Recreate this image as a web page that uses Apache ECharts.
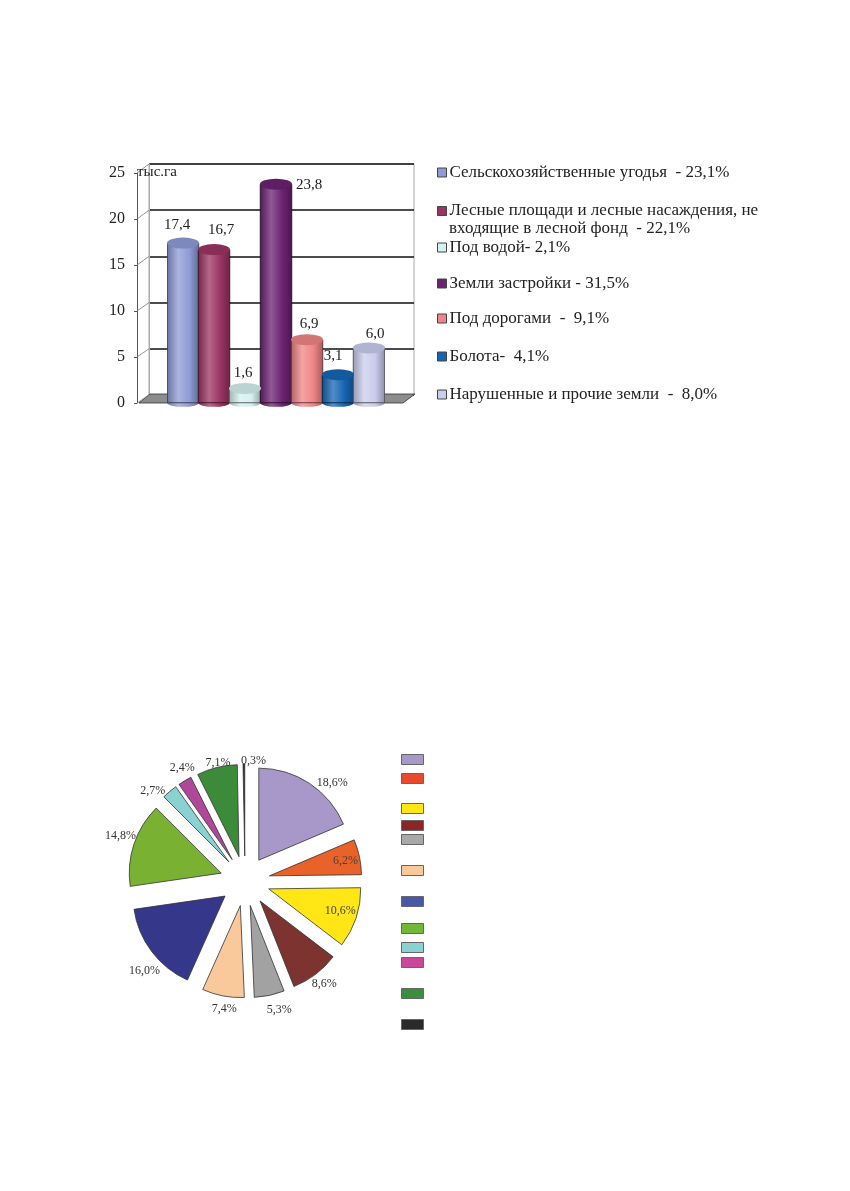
<!DOCTYPE html>
<html>
<head>
<meta charset="utf-8">
<script src="https://cdn.jsdelivr.net/npm/echarts@6/dist/echarts.min.js"></script>
<style>
    html, body { margin: 0; padding: 0; background: #fff; }
    #chart { width: 850px; height: 1191px; }
</style>
</head>
<body>
<div id="chart"></div>
<script>
// структура земель, тыс.га
var landLabels = [
    'Сельскохозяйственные угодья  - 23,1%',
    'Лесные площади и лесные насаждения, не',
    'Под водой- 2,1%',
    'Земли застройки - 31,5%',
    'Под дорогами  -  9,1%',
    'Болота-  4,1%',
    'Нарушенные и прочие земли  -  8,0%'
];
var landSecondLine = 'входящие в лесной фонд  - 22,1%';
var landValues = [17.4, 16.7, 1.6, 23.8, 6.9, 3.1, 6.0];
var landColors = ['#8e9bd6', '#9c3463', '#d6f0f0', '#6b2272', '#f08585', '#1565b4', '#c9cdec'];
var yTicks = [0, 5, 10, 15, 20, 25];

// круговая диаграмма
var pieLabels = ['18,6%', '6,2%', '10,6%', '8,6%', '5,3%', '7,4%', '16,0%', '14,8%', '2,7%', '2,4%', '7,1%', '0,3%'];
var pieValues = [18.6, 6.2, 10.6, 8.6, 5.3, 7.4, 16.0, 14.8, 2.7, 2.4, 7.1, 0.3];
var pieColors = ['#a898ca', '#e8622a', '#ffe614', '#7d3430', '#a2a2a2', '#f9c99c', '#35378a', '#79b232', '#8ad2d2', '#b0489a', '#3b8b3a', '#222222'];
var pieLegendColors = ['#a898ca', '#e84a30', '#ffe614', '#8a2528', '#a8a8a8', '#f9c99c', '#4858a8', '#72b838', '#8ad2d2', '#c8489a', '#3a8e3e', '#2a2a2a'];

window.onload = function () {
    init();
};

function shade(hex, f) {
    let n = parseInt(hex.slice(1), 16);
    let r = (n >> 16) & 255, g = (n >> 8) & 255, b = n & 255;
    if (f < 0) {
        r = Math.round(r * (1 + f)); g = Math.round(g * (1 + f)); b = Math.round(b * (1 + f));
    } else {
        r = Math.round(r + (255 - r) * f); g = Math.round(g + (255 - g) * f); b = Math.round(b + (255 - b) * f);
    }
    return 'rgb(' + r + ',' + g + ',' + b + ')';
}

function cylinder(hex) {
    return new echarts.graphic.LinearGradient(0, 0, 1, 0, [
        {offset: 0, color: shade(hex, -0.25)},
        {offset: 0.35, color: shade(hex, 0.25)},
        {offset: 0.7, color: hex},
        {offset: 1, color: shade(hex, -0.3)}
    ]);
}

function fmt(v) {
    return v.toFixed(1).replace('.', ',');
}

function init() {
    let serif = 'Liberation Serif';
    let legendTops = [164, 202.5, 239, 275, 310, 348, 386];
    let pieLegendTops = [754, 773, 803, 820, 834, 865, 896, 923, 942, 957, 988, 1019];
    // сдвиги подписей над цилиндрами
    let barLabelShift = [[-6, -1], [7, -2], [-2, 2], [33, 18], [2, 2], [-5, -1], [6, 3]];
    // сдвиги подписей пирога
    let pieLabelShift = [[-1, 1], [28, -5], [25, 7], [-12, 8], [-10, 12], [21, 11], [17, 18], [11, -8], [4, 1], [18, -11], [21, -3], [29, -1]];

    let series = [];
    // цилиндры
    landValues.forEach(function (v, i) {
        let data = landValues.map(function (x, j) { return j === i ? v : '-'; });
        series.push({
            name: landLabels[i],
            type: 'bar',
            xAxisIndex: 1,
            yAxisIndex: 1,
            barWidth: 32,
            barGap: '-100%',
            z: 3,
            itemStyle: {color: cylinder(landColors[i]), borderColor: shade(landColors[i], -0.6), borderWidth: 0.6},
            data: data
        });
    });
    // нижние эллипсы
    series.push({
        type: 'pictorialBar',
        xAxisIndex: 1,
        yAxisIndex: 1,
        symbol: 'circle',
        symbolSize: [32, 8],
        symbolPosition: 'start',
        symbolOffset: [0, '50%'],
        z: 2,
        silent: true,
        data: landValues.map(function (v, i) {
            return {value: v, itemStyle: {color: cylinder(landColors[i]), borderColor: shade(landColors[i], -0.6), borderWidth: 0.6}};
        })
    });
    // верхние эллипсы и подписи
    series.push({
        type: 'pictorialBar',
        xAxisIndex: 1,
        yAxisIndex: 1,
        symbol: 'circle',
        symbolSize: [32, 11],
        symbolPosition: 'end',
        symbolOffset: [0, '-50%'],
        z: 4,
        silent: true,
        label: {
            show: true,
            position: 'top',
            distance: 4,
            fontFamily: serif,
            fontSize: 15,
            color: '#222',
            formatter: function (p) { return fmt(p.value); }
        },
        data: landValues.map(function (v, i) {
            return {
                value: v,
                itemStyle: {color: shade(landColors[i], -0.12), borderColor: shade(landColors[i], -0.6), borderWidth: 0.6},
                label: {offset: barLabelShift[i]}
            };
        })
    });
    // пирог
    series.push({
        name: 'pie',
        type: 'pie',
        center: [245, 881],
        radius: 92,
        startAngle: 90,
        clockwise: true,
        selectedMode: 'multiple',
        selectedOffset: 25,
        avoidLabelOverlap: false,
        emphasis: {disabled: true},
        itemStyle: {borderColor: '#333', borderWidth: 0.8},
        label: {
            show: true,
            position: 'outside',
            formatter: '{b}',
            fontFamily: serif,
            fontSize: 12,
            color: '#333'
        },
        labelLine: {show: false, length: 2, length2: 2},
        labelLayout: function (params) {
            let s = pieLabelShift[params.dataIndex];
            return {dx: s[0], dy: s[1], hideOverlap: false, moveOverlap: false};
        },
        data: pieValues.map(function (v, i) {
            let item = {name: pieLabels[i], value: v, selected: true, itemStyle: {color: pieColors[i]}};
            if (i === 1 || i === 2) {
                item.label = {position: 'inside', color: '#444'};
            }
            return item;
        })
    });

    let legends = landLabels.map(function (name, i) {
        return {
            left: 437,
            top: legendTops[i],
            padding: 0,
            orient: 'vertical',
            icon: 'rect',
            itemWidth: 9,
            itemHeight: 9,
            selectedMode: false,
            textStyle: {fontFamily: serif, fontSize: 17, color: '#222', padding: [0, 0, 0, -2]},
            data: [{name: name, itemStyle: {color: landColors[i], borderColor: '#444', borderWidth: 1}}]
        };
    });
    pieLabels.forEach(function (name, i) {
        legends.push({
            left: 401,
            top: pieLegendTops[i],
            padding: 0,
            icon: 'rect',
            itemWidth: 22,
            itemHeight: 10,
            selectedMode: false,
            formatter: function () { return ''; },
            data: [{name: name, itemStyle: {color: pieLegendColors[i], borderColor: '#666', borderWidth: 1}}]
        });
    });

    let option = {
        animation: false,
        backgroundColor: '#fff',
        title: [
            {text: 'тыс.га', left: 137, top: 165, padding: 0, textStyle: {fontFamily: serif, fontSize: 15, fontWeight: 'normal', color: '#222'}},
            {text: landSecondLine, left: 449, top: 220, padding: 0, textStyle: {fontFamily: serif, fontSize: 17, fontWeight: 'normal', color: '#222'}}
        ],
        legend: legends,
        grid: [
            // задняя стенка
            {left: 149, right: 436, top: 164, bottom: 796, show: true, borderColor: '#aaa', borderWidth: 1, backgroundColor: 'transparent'},
            // передняя плоскость
            {left: 167.5, width: 217, top: 173, bottom: 788}
        ],
        xAxis: [
            {type: 'value', gridIndex: 0, min: 0, max: 1, show: false},
            {type: 'category', gridIndex: 1, data: landLabels, show: false}
        ],
        yAxis: [
            {
                type: 'value', gridIndex: 0, min: yTicks[0], max: yTicks[yTicks.length - 1], interval: 5,
                axisLabel: {show: false}, axisTick: {show: false},
                axisLine: {show: true, lineStyle: {color: '#aaa'}},
                splitLine: {show: true, lineStyle: {color: '#111', width: 1.6}}
            },
            {
                type: 'value', gridIndex: 1, min: yTicks[0], max: yTicks[yTicks.length - 1], interval: 5,
                offset: 30.5,
                axisLine: {show: true, lineStyle: {color: '#555', width: 1}},
                axisTick: {show: true, length: 3, lineStyle: {color: '#555'}},
                axisLabel: {fontFamily: serif, fontSize: 16, color: '#222', margin: 12},
                splitLine: {show: false}
            }
        ],
        graphic: [
            {
                type: 'polygon',
                z: 1,
                shape: {points: [[139, 403], [403, 403], [415, 394], [150, 394]]},
                style: {fill: '#8c8c8c', stroke: '#333', lineWidth: 0.8}
            }
        ],
        series: series
    };

    var chart = echarts.init(document.getElementById('chart'));
    chart.setOption(option);

    // боковая стенка: наклонные линии от передней оси к задней стенке
    let sideLines = yTicks.map(function (v) {
        let yFront = chart.convertToPixel({yAxisIndex: 1}, v);
        let yBack = chart.convertToPixel({yAxisIndex: 0}, v);
        return {
            type: 'line',
            z: 1,
            shape: {x1: 137, y1: yFront, x2: 149, y2: yBack},
            style: {stroke: '#777', lineWidth: 0.8}
        };
    });
    chart.setOption({graphic: option.graphic.concat(sideLines)});
}
</script>
</body>
</html>
